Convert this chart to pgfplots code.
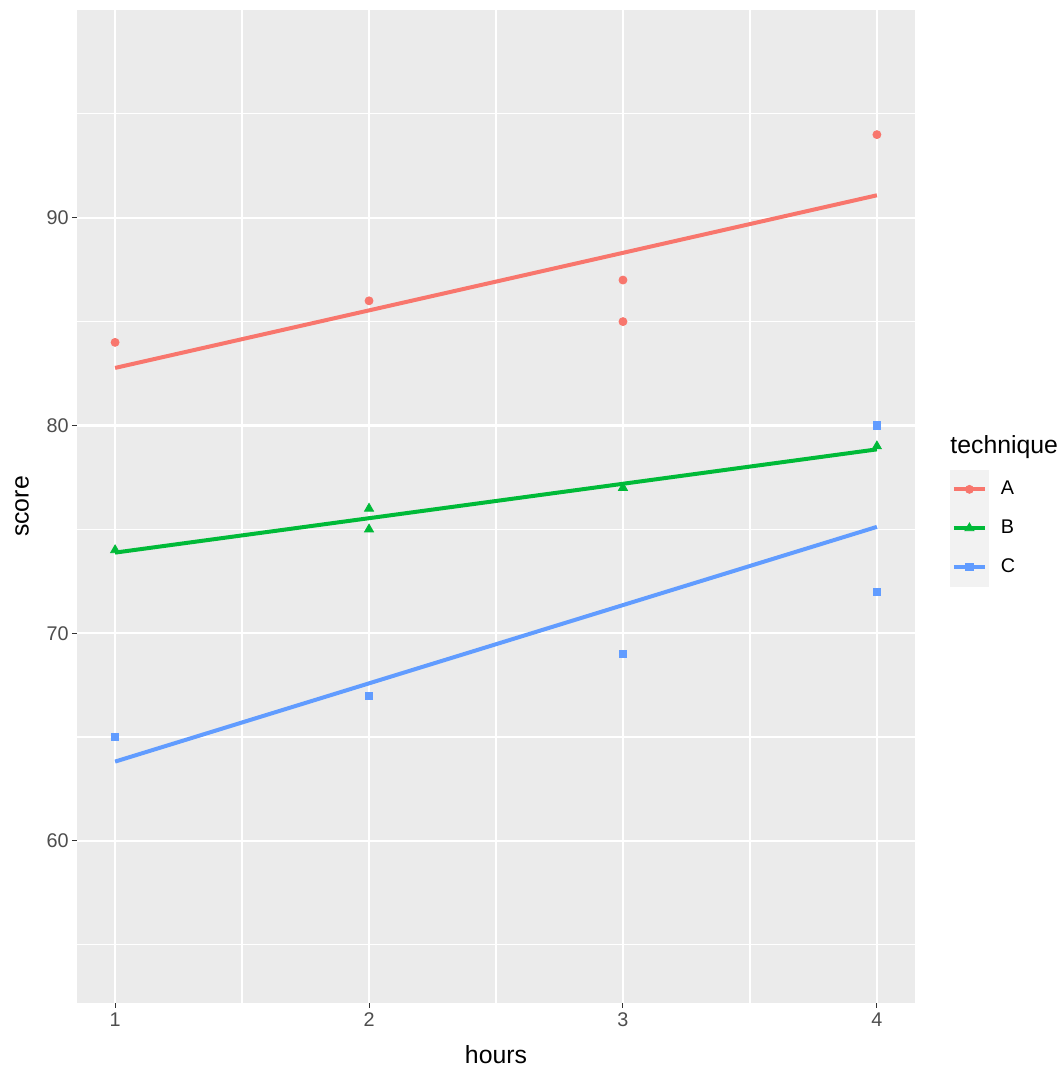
\documentclass[border=0pt]{standalone}
\usepackage{fontspec}
\setmainfont{Liberation Sans}
\usepackage{pgfplots}
\pgfplotsset{compat=1.18}
\definecolor{panelgray}{HTML}{EBEBEB}
\definecolor{keygray}{HTML}{F2F2F2}
\definecolor{ticklab}{HTML}{4D4D4D}
\definecolor{tickcol}{HTML}{333333}
\definecolor{colA}{HTML}{F8766D}
\definecolor{colB}{HTML}{00BA38}
\definecolor{colC}{HTML}{619CFF}
\begin{document}
\begin{tikzpicture}
\useasboundingbox (0,0) rectangle (530pt,540pt);
\begin{axis}[
  at={(38.5pt,38.5pt)}, anchor=south west,
  scale only axis, width=419pt, height=496.5pt,
  xmin=0.85, xmax=4.15, ymin=52.2, ymax=100,
  axis background/.style={fill=panelgray},
  axis line style={draw=none},
  tick pos=left, tick align=outside,
  major tick length=2.5pt, minor tick length=0pt,
  tick style={tickcol, line width=0.5pt},
  xtick={1,2,3,4}, ytick={60,70,80,90},
  minor xtick={1.5,2.5,3.5}, minor ytick={55,65,75,85,95},
  grid=both,
  major grid style={white, line width=1.2pt},
  minor grid style={white, line width=0.6pt},
  /pgf/number format/assume math mode=true,
  ticklabel style={font=\fontsize{9.9}{11}\selectfont, text=ticklab},
  yticklabel style={inner sep=1.5pt},
  xticklabel style={inner sep=2pt},
  xlabel={hours}, ylabel={score},
  every axis x label/.style={at={(axis description cs:0.5,-0.0524)}, anchor=center, font=\fontsize{12.4}{14}\selectfont},
  every axis y label/.style={at={(axis description cs:-0.0656,0.5)}, anchor=center, rotate=90, font=\fontsize{12.4}{14}\selectfont},
  legend image code/.code={
    \fill[keygray] (0pt,-9.5pt) rectangle (19pt,9.5pt);
    \draw[line width=2pt] (1.7pt,0pt) -- (17.3pt,0pt);
    \path plot coordinates {(9.5pt,0pt)};
  },
  legend style={at={(1.0418,0.5368)}, anchor=north west, draw=none, fill=none,
    inner sep=0pt, outer sep=0pt, row sep=0pt, column sep=6pt,
    nodes={inner sep=0pt, outer sep=0pt, font=\fontsize{9.9}{11}\selectfont}},
  legend cell align=left,
]
% observed scores
\addplot[only marks, mark=*, mark size=2pt, colA, forget plot] coordinates {(1,84) (2,86) (3,87) (3,85) (4,94)};
\addplot[only marks, mark=triangle*, mark size=2.6pt, colB, forget plot] coordinates {(1,74) (2,76) (2,75) (3,77) (4,79)};
\addplot[only marks, mark=square*, mark size=1.8pt, colC, forget plot] coordinates {(1,65) (2,67) (3,69) (4,80) (4,72)};
% least-squares fits per technique
\addplot[colA, line width=2pt, forget plot] coordinates {(1,82.77) (4,91.08)};
\addplot[colB, line width=2pt, forget plot] coordinates {(1,73.88) (4,78.85)};
\addplot[colC, line width=2pt, forget plot] coordinates {(1,63.82) (4,75.12)};
\addlegendimage{colA, mark=*, mark size=2pt}
\addlegendentry{A}
\addlegendimage{colB, mark=triangle*, mark size=2.6pt}
\addlegendentry{B}
\addlegendimage{colC, mark=square*, mark size=1.8pt}
\addlegendentry{C}
\end{axis}
\node[anchor=west, inner sep=0pt, font=\fontsize{12.4}{14}\selectfont] at (475pt,316.5pt) {technique};
\end{tikzpicture}
\end{document}
